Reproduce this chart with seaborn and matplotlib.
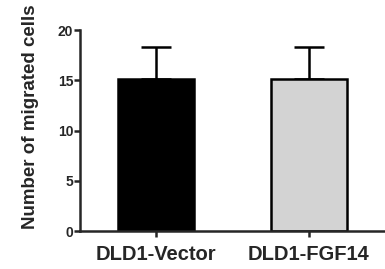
import matplotlib
matplotlib.use("Agg")
import matplotlib.pyplot as plt
import seaborn as sns
import pandas as pd

groups = ["DLD1-Vector", "DLD1-FGF14"]
means = [15.1, 15.1]
errors = [3.2, 3.2]
colors = ["#000000", "#d3d3d3"]

sns.set_style("ticks")
plt.rcParams["font.family"] = ["Liberation Sans", "DejaVu Sans"]
plt.rcParams["font.weight"] = "bold"

df = pd.DataFrame({"group": groups, "mean": means})

fig = plt.figure(figsize=(3.85, 2.69), dpi=100)
ax = fig.add_axes([0.208, 0.141, 0.792, 0.747])

sns.barplot(data=df, x="group", y="mean", hue="group", palette=colors,
            width=0.5, edgecolor="black", linewidth=1.8, legend=False, ax=ax)
ax.errorbar(range(len(groups)), means, yerr=[[0, 0], errors], fmt="none",
            ecolor="black", elinewidth=1.8, capsize=11, capthick=1.8, zorder=0)

ax.set_xlim(-0.5, 1.5)
ax.set_ylim(0, 20)
ax.set_yticks([0, 5, 10, 15, 20])
ax.set_xlabel("")
ax.set_ylabel("Number of migrated cells", fontsize=13.5, fontweight="bold")
ax.yaxis.set_label_coords(-0.135, 0.567)
ax.tick_params(axis="y", labelsize=10, width=1.8, length=4, pad=1)
ax.tick_params(axis="x", labelsize=14.5, width=1.8, length=4, pad=6)
for lab in ax.get_xticklabels() + ax.get_yticklabels():
    lab.set_fontweight("bold")
for s in ["left", "bottom"]:
    ax.spines[s].set_linewidth(1.8)
sns.despine(ax=ax)

fig.savefig("out.png", dpi=100)
